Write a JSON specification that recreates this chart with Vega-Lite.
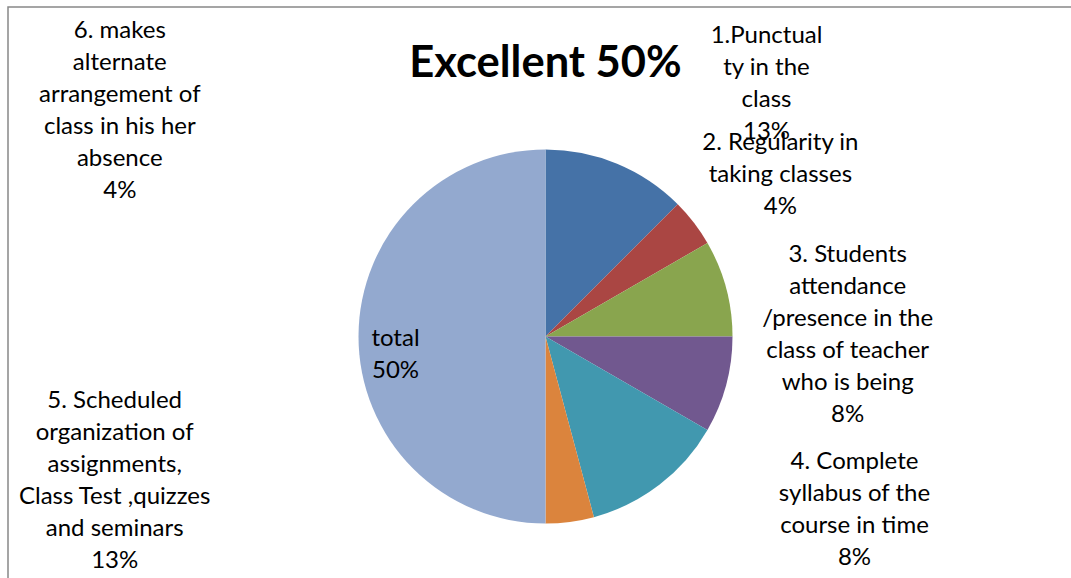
{
  "$schema": "https://vega.github.io/schema/vega-lite/v6.json",
  "autosize": "none",
  "padding": {"left": 8, "top": 7, "right": 0, "bottom": 0},
  "width": 1075,
  "height": 659,
  "background": "white",
  "view": {"stroke": "#888888", "strokeWidth": 1.5},
  "title": {
    "text": "Excellent 50%",
    "font": "Lato",
    "fontSize": 43.5,
    "fontWeight": "bold",
    "color": "black",
    "anchor": "middle",
    "frame": "group",
    "baseline": "alphabetic",
    "offset": -113
  },
  "data": {
    "values": [
      {"k": 1, "cat": "1.Punctuality in the class", "value": 3, "label": "1.Punctual\nty in the\nclass\n13%"},
      {"k": 2, "cat": "2. Regularity in taking classes", "value": 1, "label": "2. Regularity in\ntaking classes\n4%"},
      {"k": 3, "cat": "3. Students attendance /presence in the class of teacher who is being", "value": 2, "label": "3. Students\nattendance\n/presence in the\nclass of teacher\nwho is being\n8%"},
      {"k": 4, "cat": "4. Complete syllabus of the course in time", "value": 2, "label": "4. Complete\nsyllabus of the\ncourse in time\n8%"},
      {"k": 5, "cat": "5. Scheduled organization of assignments, Class Test ,quizzes and seminars", "value": 3, "label": "5. Scheduled\norganization of\nassignments,\nClass Test ,quizzes\nand seminars\n13%"},
      {"k": 6, "cat": "6. makes alternate arrangement of class in his her absence", "value": 1, "label": "6. makes\nalternate\narrangement of\nclass in his her\nabsence\n4%"},
      {"k": 7, "cat": "total", "value": 12, "label": "total\n50%"}
    ]
  },
  "transform": [
    {"stack": "value", "groupby": [], "sort": [{"field": "k", "order": "ascending"}], "as": ["v0", "v1"]}
  ],
  "layer": [
    {
      "mark": {"type": "arc", "outerRadius": 187},
      "encoding": {
        "theta": {"field": "v0", "type": "quantitative", "scale": {"domain": [0, 24]}},
        "theta2": {"field": "v1"},
        "color": {
          "field": "cat",
          "type": "nominal",
          "legend": null,
          "scale": {
            "domain": [
              "1.Punctuality in the class",
              "2. Regularity in taking classes",
              "3. Students attendance /presence in the class of teacher who is being",
              "4. Complete syllabus of the course in time",
              "5. Scheduled organization of assignments, Class Test ,quizzes and seminars",
              "6. makes alternate arrangement of class in his her absence",
              "total"
            ],
            "range": ["#4572A7", "#AA4643", "#89A54E", "#71588F", "#4198AF", "#DB843D", "#93A9CF"]
          }
        }
      }
    },
    {
      "transform": [{"filter": "datum.k == 1"}],
      "mark": {"type": "text", "radius": 260, "dx": 221, "dy": -41, "font": "Lato", "fontSize": 24, "lineHeight": 32, "lineBreak": "\n", "align": "center", "baseline": "middle", "color": "black"},
      "encoding": {"theta": {"field": "v0", "type": "quantitative"}, "text": {"field": "label", "type": "nominal"}}
    },
    {
      "transform": [{"filter": "datum.k == 2"}],
      "mark": {"type": "text", "radius": 260, "dx": 51, "dy": -10, "font": "Lato", "fontSize": 24, "lineHeight": 32, "lineBreak": "\n", "align": "center", "baseline": "middle", "color": "black"},
      "encoding": {"theta": {"field": "v0", "type": "quantitative"}, "text": {"field": "label", "type": "nominal"}}
    },
    {
      "transform": [{"filter": "datum.k == 3"}],
      "mark": {"type": "text", "radius": 260, "dx": 77, "dy": 48, "font": "Lato", "fontSize": 24, "lineHeight": 32, "lineBreak": "\n", "align": "center", "baseline": "middle", "color": "black"},
      "encoding": {"theta": {"field": "v0", "type": "quantitative"}, "text": {"field": "label", "type": "nominal"}}
    },
    {
      "transform": [{"filter": "datum.k == 4"}],
      "mark": {"type": "text", "radius": 260, "dx": 49, "dy": 125, "font": "Lato", "fontSize": 24, "lineHeight": 32, "lineBreak": "\n", "align": "center", "baseline": "middle", "color": "black"},
      "encoding": {"theta": {"field": "v0", "type": "quantitative"}, "text": {"field": "label", "type": "nominal"}}
    },
    {
      "transform": [{"filter": "datum.k == 5"}],
      "mark": {"type": "text", "radius": 260, "dx": -656, "dy": -66, "font": "Lato", "fontSize": 24, "lineHeight": 32, "lineBreak": "\n", "align": "center", "baseline": "middle", "color": "black"},
      "encoding": {"theta": {"field": "v0", "type": "quantitative"}, "text": {"field": "label", "type": "nominal"}}
    },
    {
      "transform": [{"filter": "datum.k == 6"}],
      "mark": {"type": "text", "radius": 260, "dx": -493, "dy": -557, "font": "Lato", "fontSize": 24, "lineHeight": 32, "lineBreak": "\n", "align": "center", "baseline": "middle", "color": "black"},
      "encoding": {"theta": {"field": "v0", "type": "quantitative"}, "text": {"field": "label", "type": "nominal"}}
    },
    {
      "transform": [{"filter": "datum.k == 7"}],
      "mark": {"type": "text", "radius": 150, "dx": -150, "dy": -148, "font": "Lato", "fontSize": 24, "lineHeight": 32, "lineBreak": "\n", "align": "center", "baseline": "middle", "color": "black"},
      "encoding": {"theta": {"field": "v0", "type": "quantitative"}, "text": {"field": "label", "type": "nominal"}}
    }
  ]
}
